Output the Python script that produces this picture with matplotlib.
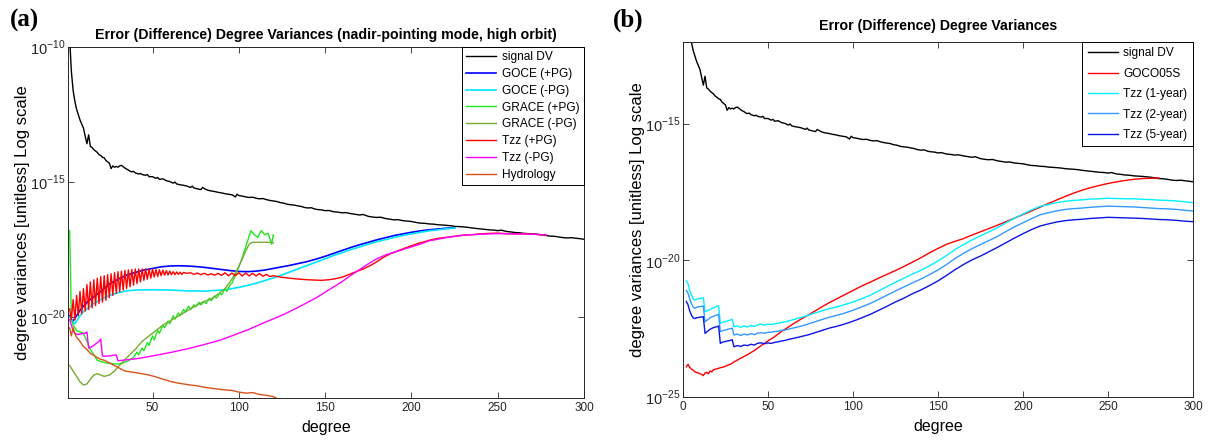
import numpy as np
import matplotlib
matplotlib.use("Agg")
import matplotlib.pyplot as plt

plt.rcParams['font.family'] = ['Liberation Sans', 'DejaVu Sans']
plt.rcParams['mathtext.fontset'] = 'custom'
plt.rcParams['mathtext.rm'] = 'Liberation Sans'

# ---- data (log10 of degree variances) ----
sig_deg = [2, 3, 4, 5, 6, 7, 8, 9, 10, 11, 12, 13, 14, 15, 16, 17, 18, 19, 20, 21, 22, 23, 24, 25,
           26, 27, 28, 29, 30, 31, 32, 33, 34, 35, 36, 37, 38, 39, 40, 42, 43, 44, 46, 47, 48, 50,
           52, 53, 54, 56, 58, 60, 62, 63, 64, 66, 68, 70, 72, 73, 74, 76, 78, 79, 80, 82, 84, 86,
           88, 90, 92, 94, 96, 98, 99, 100, 102, 104, 106, 108, 110, 112, 114, 116, 118, 120, 122,
           124, 126, 128, 130, 132, 134, 136, 138, 140, 142, 144, 146, 148, 150, 152, 155, 158, 160,
           162, 165, 168, 170, 172, 175, 178, 180, 182, 185, 188, 190, 192, 195, 198, 200, 203, 205,
           208, 210, 213, 215, 218, 220, 223, 225, 228, 230, 233, 235, 238, 240, 243, 245, 248, 250,
           252, 255, 258, 260, 263, 265, 268, 270, 273, 275, 278, 280, 283, 285, 288, 290, 293, 295,
           298, 300]
sig_log = [-9.7, -10.9, -11.6, -12.0, -12.3, -12.5, -12.7, -12.85, -13.0, -13.3, -13.58, -13.25,
           -13.68, -13.72, -13.8, -13.85, -13.9, -13.98, -14.02, -14.08, -14.1, -14.2, -14.25, -14.3,
           -14.5, -14.4, -14.45, -14.42, -14.45, -14.4, -14.38, -14.43, -14.48, -14.52, -14.55, -14.6,
           -14.62, -14.6, -14.66, -14.7, -14.68, -14.72, -14.75, -14.72, -14.8, -14.8, -14.86, -14.83,
           -14.9, -14.88, -14.95, -14.98, -15.04, -15.0, -15.07, -15.1, -15.12, -15.15, -15.2, -15.15,
           -15.22, -15.25, -15.28, -15.2, -15.24, -15.3, -15.33, -15.35, -15.38, -15.4, -15.43, -15.45,
           -15.47, -15.55, -15.45, -15.5, -15.52, -15.55, -15.57, -15.56, -15.6, -15.62, -15.61, -15.65,
           -15.68, -15.7, -15.72, -15.76, -15.78, -15.82, -15.84, -15.85, -15.88, -15.9, -15.94, -15.96,
           -15.95, -16.0, -16.02, -16.03, -16.06, -16.05, -16.1, -16.12, -16.14, -16.13, -16.17, -16.2,
           -16.22, -16.2, -16.27, -16.3, -16.31, -16.3, -16.35, -16.38, -16.4, -16.39, -16.43, -16.45,
           -16.46, -16.5, -16.52, -16.53, -16.55, -16.56, -16.58, -16.59, -16.6, -16.62, -16.64, -16.65,
           -16.66, -16.68, -16.7, -16.72, -16.73, -16.75, -16.77, -16.78, -16.8, -16.78, -16.83, -16.85,
           -16.87, -16.88, -16.9, -16.91, -16.92, -16.94, -16.95, -16.98, -17.0, -17.01, -17.03, -17.06,
           -17.07, -17.06, -17.08, -17.1, -17.12]

# panel (a)
goce_pg_deg = [2, 3, 4, 6, 8, 10, 13, 16, 20, 25, 30, 35, 40, 45, 50, 55, 60, 65, 70, 75, 80, 85,
               90, 95, 100, 105, 110, 115, 120, 125, 130, 135, 140, 145, 150, 155, 160, 165, 170,
               175, 180, 185, 190, 195, 200, 205, 210, 215, 220, 225]
goce_pg_log = [-19.95, -20.1, -20.15, -19.95, -19.75, -19.6, -19.4, -19.25, -19.05, -18.78, -18.6,
               -18.45, -18.35, -18.26, -18.2, -18.14, -18.11, -18.1, -18.11, -18.13, -18.16, -18.2,
               -18.24, -18.28, -18.31, -18.32, -18.3, -18.26, -18.2, -18.14, -18.08, -18.01, -17.94,
               -17.85, -17.75, -17.64, -17.53, -17.42, -17.32, -17.23, -17.14, -17.06, -16.98, -16.92,
               -16.86, -16.81, -16.77, -16.74, -16.71, -16.69]

goce_nopg_deg = [2, 3, 4, 5, 6, 8, 10, 13, 16, 20, 25, 30, 35, 40, 50, 60, 70, 80, 90, 95, 100, 105,
                 110, 115, 120, 125, 130, 135, 140, 145, 150, 155, 160, 165, 170, 175, 180, 185, 190,
                 195, 200, 205, 210, 215, 220, 225]
goce_nopg_log = [-20.0, -20.1, -20.2, -20.25, -20.15, -19.95, -19.8, -19.65, -19.5, -19.35, -19.2,
                 -19.1, -19.03, -19.0, -18.99, -19.0, -19.03, -19.04, -19.0, -18.96, -18.9, -18.83,
                 -18.75, -18.65, -18.55, -18.44, -18.32, -18.2, -18.08, -17.96, -17.84, -17.72,
                 -17.61, -17.5, -17.4, -17.3, -17.21, -17.13, -17.05, -16.98, -16.92, -16.86, -16.81,
                 -16.77, -16.73, -16.7]

grace_pg_deg = [2, 3, 4, 6, 8, 10, 12, 14, 16, 18, 20, 23, 26, 30, 33, 36, 39, 41, 42, 44, 45, 47,
                48, 50, 51, 53, 54, 56, 57, 59, 60, 62, 63, 65, 66, 68, 69, 71, 72, 74, 75, 77, 78,
                80, 81, 83, 84, 86, 87, 89, 90, 92, 93, 95, 96, 98, 100, 102, 104, 106, 107, 109,
                111, 113, 115, 117, 119, 120]
grace_pg_log = [-16.8, -20.1, -20.3, -20.5, -20.55, -20.6, -20.9, -21.2, -21.4, -21.6, -21.65, -21.7,
                -21.72, -21.75, -21.7, -21.62, -21.5, -21.3, -21.4, -21.15, -21.25, -20.95, -21.05,
                -20.7, -20.85, -20.5, -20.6, -20.3, -20.4, -20.15, -20.25, -19.95, -20.08, -19.85,
                -19.95, -19.72, -19.8, -19.6, -19.72, -19.55, -19.62, -19.45, -19.55, -19.42, -19.5,
                -19.3, -19.4, -19.22, -19.3, -19.12, -19.18, -18.95, -19.05, -18.8, -18.75, -18.45,
                -18.15, -17.8, -17.4, -17.0, -16.8, -16.95, -17.05, -16.8, -16.95, -16.9, -17.3,
                -16.95]

grace_nopg_deg = [2, 4, 6, 8, 10, 12, 14, 16, 18, 20, 22, 25, 28, 30, 33, 36, 40, 44, 48, 52, 56,
                  60, 64, 68, 72, 76, 80, 84, 88, 92, 96, 99, 102, 104, 106, 108, 112, 116, 120]
grace_nopg_log = [-21.8, -22.0, -22.2, -22.4, -22.52, -22.48, -22.3, -22.15, -22.1, -22.15, -22.2,
                  -22.15, -22.0, -21.85, -21.65, -21.45, -21.2, -20.9, -20.7, -20.5, -20.3, -20.15,
                  -20.0, -19.85, -19.7, -19.55, -19.42, -19.33, -19.15, -18.95, -18.6, -18.25,
                  -17.85, -17.55, -17.3, -17.23, -17.23, -17.23, -17.25]

tzz_pg_deg = [2, 3, 4, 5, 6, 7, 8, 9, 10, 11, 12, 13, 14, 15, 16, 17, 18, 19, 20, 21, 22, 23, 24,
              25, 26, 27, 28, 29, 30, 31, 32, 33, 34, 35, 36, 37, 38, 39, 40, 41, 42, 43, 44, 45,
              46, 47, 48, 49, 50, 51, 52, 53, 54, 55, 56, 57, 58, 59, 60, 61, 62, 63, 64, 65, 66,
              67, 68, 70, 72, 74, 76, 78, 80, 82, 84, 86, 88, 90, 92, 94, 96, 98, 100, 102, 104,
              106, 108, 110, 112, 114, 116, 118, 120, 124, 128, 132, 136, 140, 144, 148, 152, 156,
              160, 164, 168, 172, 176, 180, 184, 188, 192, 196, 200, 204, 208, 212, 216, 220, 225,
              230, 235, 240, 245, 250, 255, 260, 265, 270, 275, 278]
tzz_pg_log = [-19.7, -20.1, -19.35, -20.1, -19.2, -19.95, -19.05, -19.88, -18.95, -19.78, -18.8,
              -19.72, -18.7, -19.66, -18.62, -19.58, -18.56, -19.5, -18.5, -19.45, -18.47, -19.38,
              -18.43, -19.28, -18.4, -19.2, -18.36, -19.12, -18.32, -19.06, -18.3, -19.0, -18.27,
              -18.94, -18.25, -18.88, -18.24, -18.82, -18.22, -18.76, -18.22, -18.7, -18.22, -18.64,
              -18.22, -18.6, -18.23, -18.56, -18.22, -18.52, -18.24, -18.5, -18.25, -18.47, -18.26,
              -18.45, -18.28, -18.44, -18.3, -18.43, -18.32, -18.43, -18.33, -18.42, -18.34, -18.42,
              -18.35, -18.38, -18.36, -18.42, -18.37, -18.43, -18.38, -18.44, -18.4, -18.45, -18.38,
              -18.46, -18.36, -18.47, -18.37, -18.47, -18.36, -18.48, -18.37, -18.48, -18.38, -18.48,
              -18.39, -18.49, -18.42, -18.5, -18.47, -18.52, -18.55, -18.58, -18.6, -18.62, -18.63,
              -18.64, -18.62, -18.58, -18.52, -18.42, -18.32, -18.22, -18.1, -17.95, -17.78, -17.65,
              -17.55, -17.45, -17.36, -17.27, -17.2, -17.13, -17.08, -17.05, -17.01, -16.97, -16.95,
              -16.92, -16.9, -16.89, -16.91, -16.92, -16.91, -16.93, -16.95, -16.96]

tzz_nopg_deg = [2, 3, 4, 5, 7, 9, 11, 12, 13, 15, 17, 19, 20, 21, 24, 27, 29, 30, 33, 36, 40, 45,
                50, 55, 60, 65, 70, 75, 80, 85, 90, 95, 100, 105, 110, 115, 120, 125, 130, 135, 140,
                145, 150, 155, 160, 165, 170, 175, 180, 185, 190, 195, 200, 205, 210, 215, 220, 225,
                230, 240, 250, 260, 270, 278]
tzz_nopg_log = [-20.1, -20.3, -20.5, -20.6, -20.65, -20.62, -20.6, -20.55, -21.15, -21.1, -21.0,
                -20.9, -20.82, -21.45, -21.45, -21.42, -21.4, -21.62, -21.6, -21.58, -21.55, -21.5,
                -21.44, -21.38, -21.32, -21.25, -21.18, -21.1, -21.02, -20.93, -20.84, -20.72, -20.6,
                -20.48, -20.34, -20.2, -20.07, -19.93, -19.78, -19.62, -19.45, -19.28, -19.08, -18.88,
                -18.68, -18.45, -18.24, -18.03, -17.84, -17.7, -17.6, -17.5, -17.4, -17.3, -17.18,
                -17.12, -17.06, -17.01, -16.97, -16.93, -16.91, -16.92, -16.93, -16.96]

hydro_deg = [2, 3, 4, 5, 6, 8, 10, 12, 14, 16, 18, 20, 22, 25, 28, 31, 34, 37, 40, 44, 48, 52, 56,
             60, 64, 68, 72, 76, 80, 84, 88, 92, 96, 100, 104, 108, 112, 116, 120, 123]
hydro_log = [-20.4, -20.7, -20.4, -20.6, -20.75, -20.9, -21.1, -21.2, -21.35, -21.42, -21.5, -21.57,
             -21.6, -21.7, -21.8, -21.9, -22.0, -22.03, -22.06, -22.1, -22.15, -22.22, -22.3, -22.38,
             -22.44, -22.48, -22.52, -22.55, -22.6, -22.64, -22.67, -22.7, -22.72, -22.78, -22.82,
             -22.8, -22.87, -22.9, -22.95, -23.05]

# panel (b)
goco_deg = [2, 3, 4, 5, 6, 7, 8, 9, 10, 11, 12, 13, 14, 15, 16, 17, 18, 20, 22, 24, 26, 28, 30, 32,
            35, 38, 42, 46, 50, 54, 58, 62, 66, 70, 74, 78, 82, 86, 90, 95, 100, 105, 110, 115, 120,
            125, 130, 135, 140, 145, 150, 155, 160, 165, 170, 175, 180, 185, 190, 195, 200, 205,
            210, 215, 220, 225, 230, 235, 240, 245, 250, 255, 260, 265, 270, 275, 280]
goco_log = [-23.9, -23.8, -23.92, -23.98, -24.02, -24.08, -24.1, -24.12, -24.15, -24.18, -24.22,
            -24.12, -24.1, -24.15, -24.05, -24.08, -24.0, -23.97, -23.93, -23.9, -23.85, -23.8,
            -23.72, -23.65, -23.55, -23.45, -23.3, -23.12, -22.95, -22.79, -22.6, -22.44, -22.28,
            -22.13, -21.99, -21.84, -21.69, -21.55, -21.42, -21.26, -21.1, -20.94, -20.8, -20.65,
            -20.51, -20.37, -20.22, -20.06, -19.9, -19.72, -19.56, -19.41, -19.3, -19.2, -19.07,
            -18.95, -18.83, -18.71, -18.58, -18.45, -18.32, -18.19, -18.05, -17.91, -17.78, -17.65,
            -17.53, -17.42, -17.33, -17.25, -17.18, -17.12, -17.07, -17.03, -17.0, -16.99, -16.98]

tzz_deg = [2, 3, 4, 5, 6, 7, 8, 9, 10, 11, 12, 13, 14, 15, 16, 17, 18, 19, 20, 21, 22, 23, 24, 25,
           26, 27, 28, 29, 30, 32, 34, 36, 38, 40, 42, 44, 46, 48, 50, 52, 54, 56, 58, 60, 63, 66,
           70, 74, 78, 82, 86, 90, 94, 98, 102, 106, 110, 115, 120, 125, 130, 135, 140, 145, 150,
           155, 160, 165, 170, 175, 180, 185, 190, 195, 200, 205, 210, 215, 220, 225, 230, 235, 240,
           245, 250, 255, 260, 265, 270, 275, 280, 285, 290, 295, 300]
tzz_1yr_log = [-20.75, -20.85, -21.1, -21.28, -21.4, -21.45, -21.42, -21.4, -21.4, -21.38, -21.37,
               -21.88, -21.85, -21.82, -21.8, -21.76, -21.74, -21.7, -21.68, -21.66, -22.3, -22.28,
               -22.25, -22.24, -22.22, -22.2, -22.18, -22.16, -22.43,
               -22.4, -22.45, -22.4, -22.44, -22.38, -22.42, -22.36, -22.33, -22.37, -22.33, -22.35,
               -22.32, -22.3, -22.27, -22.25, -22.2, -22.15,
               -22.08, -22.0, -21.92, -21.84, -21.77, -21.71, -21.64, -21.56, -21.48, -21.38, -21.28,
               -21.12, -20.96, -20.8, -20.65, -20.5, -20.36, -20.2, -20.02, -19.82, -19.6, -19.42,
               -19.25, -19.1, -18.95, -18.8, -18.62, -18.45, -18.3, -18.15, -18.02, -17.95, -17.88,
               -17.83, -17.8, -17.78, -17.75, -17.74, -17.72, -17.73, -17.74, -17.74, -17.76, -17.77,
               -17.79, -17.8, -17.82, -17.85, -17.88]
tzz_2yr_log = [-21.1, -21.2, -21.42, -21.58, -21.7, -21.75, -21.72, -21.7, -21.69, -21.68, -21.67,
               -22.25, -22.2, -22.15, -22.1, -22.07, -22.04, -22.02, -22.0, -21.98, -22.61, -22.58,
               -22.56, -22.55, -22.53, -22.51, -22.5, -22.48, -22.73,
               -22.7, -22.75, -22.7, -22.73, -22.68, -22.72, -22.66, -22.65, -22.67, -22.63, -22.63,
               -22.6, -22.6, -22.56, -22.55, -22.5, -22.46,
               -22.4, -22.32, -22.24, -22.16, -22.08, -22.02, -21.95, -21.87, -21.78, -21.68, -21.58,
               -21.43, -21.27, -21.12, -20.97, -20.82, -20.68, -20.52, -20.35, -20.15, -19.93, -19.74,
               -19.57, -19.42, -19.27, -19.12, -18.94, -18.77, -18.62, -18.47, -18.33, -18.25, -18.18,
               -18.13, -18.1, -18.08, -18.05, -18.03, -18.01, -18.02, -18.03, -18.04, -18.06, -18.08,
               -18.1, -18.11, -18.13, -18.16, -18.19]
tzz_5yr_log = [-21.5, -21.62, -21.85, -22.0, -22.1, -22.13, -22.1, -22.09, -22.08, -22.07, -22.06,
               -22.67, -22.62, -22.57, -22.52, -22.49, -22.46, -22.44, -22.43, -22.4, -23.04, -23.0,
               -22.98, -22.97, -22.95, -22.94, -22.93, -22.9, -23.16,
               -23.12, -23.15, -23.1, -23.12, -23.07, -23.1, -23.03, -23.02, -23.05, -23.02, -23.04,
               -23.0, -22.98, -22.95, -22.93, -22.88, -22.84,
               -22.78, -22.72, -22.64, -22.56, -22.48, -22.42, -22.35, -22.27, -22.18, -22.08, -21.98,
               -21.83, -21.68, -21.52, -21.38, -21.22, -21.08, -20.92, -20.75, -20.55, -20.34, -20.15,
               -19.98, -19.84, -19.68, -19.52, -19.35, -19.18, -19.02, -18.87, -18.74, -18.66, -18.59,
               -18.54, -18.51, -18.49, -18.46, -18.44, -18.42, -18.43, -18.44, -18.45, -18.46, -18.48,
               -18.5, -18.51, -18.53, -18.56, -18.58]

ylab = 'degree variances [unitless] Log scale'


def pw(v):
    return 10.0 ** np.asarray(v)


def style_axes(ax, yt):
    ax.set_yscale('log')
    ax.set_yticks([10.0 ** e for e in yt])
    ax.set_yticklabels([r'$10^{%d}$' % e for e in yt])
    ax.minorticks_off()
    ax.tick_params(direction='in', top=True, right=True, length=4, width=0.6,
                   colors='#262626', pad=3)
    ax.tick_params(axis='x', labelsize=8.5)
    ax.tick_params(axis='y', labelsize=10.5, pad=2)
    for s in ax.spines.values():
        s.set_linewidth(0.7)
        s.set_color('#262626')
    ax.set_xlabel('degree', fontsize=11.5, labelpad=4)
    ax.set_ylabel(ylab, fontsize=12, labelpad=0)


fig = plt.figure(figsize=(12.13, 4.43), dpi=100)

# ---------------- panel (a) ----------------
ax1 = fig.add_axes([0.056, 0.1016, 0.4255, 0.792])
lw = 1.0
ax1.plot(sig_deg, pw(sig_log), color='black', lw=lw, label='signal DV')
ax1.plot(goce_pg_deg, pw(goce_pg_log), color='#0000ff', lw=lw + 0.2, label='GOCE (+PG)')
ax1.plot(goce_nopg_deg, pw(goce_nopg_log), color='#00e5ff', lw=lw + 0.2, label='GOCE (-PG)')
ax1.plot(grace_pg_deg, pw(grace_pg_log), color='#1ee81e', lw=lw, label='GRACE (+PG)')
ax1.plot(grace_nopg_deg, pw(grace_nopg_log), color='#77ac30', lw=lw, label='GRACE (-PG)')
ax1.plot(tzz_pg_deg, pw(tzz_pg_log), color='#ff0000', lw=lw, label='Tzz (+PG)')
ax1.plot(tzz_nopg_deg, pw(tzz_nopg_log), color='#ff00ff', lw=lw, label='Tzz (-PG)')
ax1.plot(hydro_deg, pw(hydro_log), color='#d95319', lw=lw, label='Hydrology')
ax1.set_xlim(1, 300)
ax1.set_ylim(1e-23, 1e-10)
ax1.set_xticks([50, 100, 150, 200, 250, 300])
style_axes(ax1, [-10, -15, -20])
ax1.set_title('Error (Difference) Degree Variances (nadir-pointing mode, high orbit)',
              fontsize=10.2, fontweight='bold', pad=6)
leg1 = ax1.legend(loc='upper right', fontsize=8.6, fancybox=False, edgecolor='black',
                  framealpha=1, borderaxespad=0, handlelength=2.5, labelspacing=0.4,
                  borderpad=0.35, handletextpad=0.5)
leg1.get_frame().set_linewidth(0.7)

# ---------------- panel (b) ----------------
ax2 = fig.add_axes([0.563, 0.104, 0.4205, 0.801])
ax2.plot(sig_deg, pw(sig_log), color='black', lw=lw, label='signal DV')
ax2.plot(goco_deg, pw(goco_log), color='#ff0000', lw=lw, label='GOCO05S')
ax2.plot(tzz_deg, pw(tzz_1yr_log), color='#00f0ff', lw=lw, label='Tzz (1-year)')
ax2.plot(tzz_deg, pw(tzz_2yr_log), color='#3399ff', lw=lw, label='Tzz (2-year)')
ax2.plot(tzz_deg, pw(tzz_5yr_log), color='#0a14e6', lw=lw, label='Tzz (5-year)')
ax2.set_xlim(0, 300)
ax2.set_ylim(1e-25, 1e-12)
ax2.set_xticks([0, 50, 100, 150, 200, 250, 300])
style_axes(ax2, [-15, -20, -25])
ax2.set_title('Error (Difference) Degree Variances', fontsize=10.2, fontweight='bold', pad=9)
leg2 = ax2.legend(loc='upper right', fontsize=8.6, fancybox=False, edgecolor='black',
                  framealpha=1, borderaxespad=0, handlelength=2.5, labelspacing=0.7,
                  borderpad=0.45, handletextpad=0.5)
leg2.get_frame().set_linewidth(0.7)

fig.text(0.008, 0.98, '(a)', fontsize=18, fontweight='bold', va='top',
         family=['Liberation Serif', 'DejaVu Serif'])
fig.text(0.505, 0.98, '(b)', fontsize=18, fontweight='bold', va='top',
         family=['Liberation Serif', 'DejaVu Serif'])

fig.savefig('out.png', dpi=100)
